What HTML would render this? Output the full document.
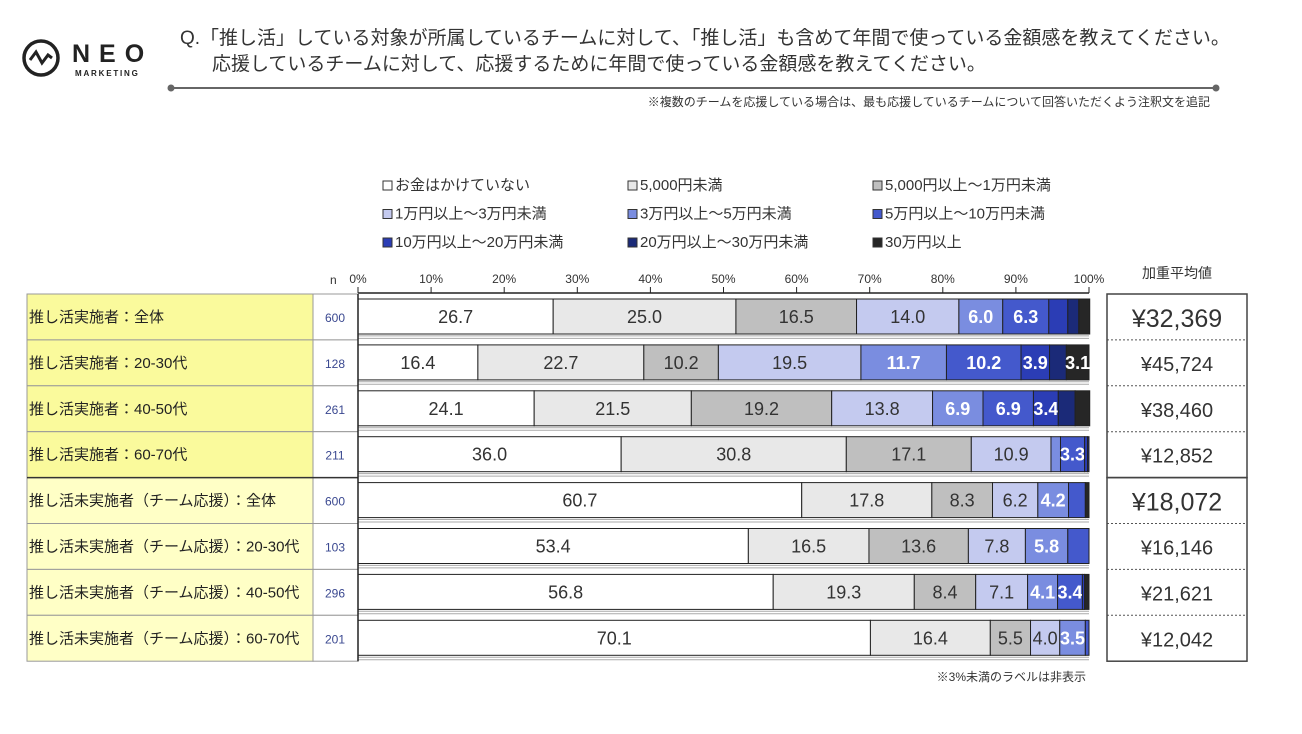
<!DOCTYPE html>
<html><head><meta charset="utf-8"><style>
body{margin:0;background:#fff;width:1302px;height:729px;overflow:hidden;font-family:"Liberation Sans","Noto Sans CJK JP",sans-serif;}
svg text{font-family:"Liberation Sans","Noto Sans CJK JP",sans-serif;}
</style></head><body>
<svg id="chart" width="1302" height="729" xmlns="http://www.w3.org/2000/svg">
<g>
<circle cx="41" cy="58" r="17" fill="none" stroke="#222" stroke-width="3.5"/>
<polyline points="30,60 36,52 42,63 48,55 52,58" fill="none" stroke="#222" stroke-width="3"/>
<text x="72" y="62" font-size="25" font-weight="bold" fill="#222" letter-spacing="9">NEO</text>
<text x="75" y="76" font-size="8" font-weight="bold" fill="#222" letter-spacing="1.8">MARKETING</text>
</g>
<text x="180" y="44" font-size="19" fill="#333">Q.「推し活」している対象が所属しているチームに対して、「推し活」も含めて年間で使っている金額感を教えてください。</text>
<text x="212" y="70" font-size="19" fill="#333">応援しているチームに対して、応援するために年間で使っている金額感を教えてください。</text>
<line x1="171" y1="88" x2="1216" y2="88" stroke="#666" stroke-width="2"/>
<circle cx="171" cy="88" r="3.5" fill="#666"/><circle cx="1216" cy="88" r="3.5" fill="#666"/>
<text x="1210" y="106" font-size="12" fill="#333" text-anchor="end">※複数のチームを応援している場合は、最も応援しているチームについて回答いただくよう注釈文を追記</text>
<g id="legend"></g>
<g id="axis"></g>
<g id="rows"></g>
<text x="1177" y="278" font-size="14" fill="#333" text-anchor="middle">加重平均値</text>
<text x="330" y="284" font-size="12" fill="#333">n</text>
<text x="1086" y="681" font-size="12" fill="#333" text-anchor="end">※3%未満のラベルは非表示</text>
</svg>
<script>
const seriesNames=["お金はかけていない","5,000円未満","5,000円以上～1万円未満","1万円以上～3万円未満","3万円以上～5万円未満","5万円以上～10万円未満","10万円以上～20万円未満","20万円以上～30万円未満","30万円以上"];
const categories=["推し活実施者：全体","推し活実施者：20-30代","推し活実施者：40-50代","推し活実施者：60-70代","推し活未実施者（チーム応援）：全体","推し活未実施者（チーム応援）：20-30代","推し活未実施者（チーム応援）：40-50代","推し活未実施者（チーム応援）：60-70代"];
const nValues=[600,128,261,211,600,103,296,201];
const avgLabels=["¥32,369","¥45,724","¥38,460","¥12,852","¥18,072","¥16,146","¥21,621","¥12,042"];
const s0=[26.7,16.4,24.1,36.0,60.7,53.4,56.8,70.1];
const s1=[25.0,22.7,21.5,30.8,17.8,16.5,19.3,16.4];
const s2=[16.5,10.2,19.2,17.1,8.3,13.6,8.4,5.5];
const s3=[14.0,19.5,13.8,10.9,6.2,7.8,7.1,4.0];
const s4=[6.0,11.7,6.9,1.3,4.2,5.8,4.1,3.5];
const s5=[6.3,10.2,6.9,3.3,2.3,2.9,3.4,0.5];
const s6=[2.6,3.9,3.4,0.4,0.0,0.0,0.3,0.0];
const s7=[1.5,2.3,2.3,0.2,0.0,0.0,0.0,0.0];
const s8=[1.5,3.1,2.0,0.0,0.5,0.0,0.6,0.0];
const series=[s0,s1,s2,s3,s4,s5,s6,s7,s8];
const ticks=[0,10,20,30,40,50,60,70,80,90,100];
const colors=["#ffffff","#e8e8e8","#bfbfbf","#c4caef","#7a8de0","#4459cc","#2b3db5","#1b2a78","#262626"];
const textColors=["#333","#333","#333","#333","#fff","#fff","#fff","#fff","#fff"];
const NS="http://www.w3.org/2000/svg";
const X0=358,X1=1089,rowTop=294,rowH=45.9;
const x=v=>X0+(X1-X0)*v/100;
const yRow=i=>rowTop+i*rowH;
function mk(tag,attrs,parent,txt){const e=document.createElementNS(NS,tag);for(const k in attrs)e.setAttribute(k,attrs[k]);if(txt!==undefined)e.textContent=txt;parent.appendChild(e);return e;}
const lg=document.getElementById('legend');
seriesNames.forEach((nm,i)=>{const c=i%3,r=Math.floor(i/3);const lx=383+c*245,ly=190+r*28.5;
const g=mk('g',{},lg);


mk('rect',{x:lx,y:ly-9,width:9,height:9,fill:colors[i],stroke:'#333','stroke-width':1},g);
mk('text',{x:lx+12,y:ly,'font-size':15,fill:'#333'},g,nm);});
const ax=document.getElementById('axis');
mk('line',{x1:X0,y1:293,x2:X1,y2:293,stroke:'#222','stroke-width':1.5},ax);
ticks.forEach(t=>{mk('line',{x1:x(t),y1:287,x2:x(t),y2:293,stroke:'#222'},ax);
const tl=mk('text',{x:x(t),y:283,'font-size':12,fill:'#333','text-anchor':'middle'},ax,t+'%');

});
const rg=document.getElementById('rows');
categories.forEach((cat,i)=>{const y=yRow(i);
const lab=mk('rect',{x:27,y:y,width:286,height:rowH,fill:i<4?'#fafa9c':'#ffffc6',stroke:'#999','stroke-width':1},rg);


mk('rect',{x:313,y:y,width:45,height:rowH,fill:'#fff',stroke:'#999','stroke-width':1},rg);
mk('text',{x:29,y:y+28,'font-size':15,fill:'#222'},rg,cat);
const nt=mk('text',{x:335,y:y+28,'font-size':12,fill:'#3a4890','text-anchor':'middle'},rg,String(nValues[i]));


mk('line',{x1:X0,y1:y+rowH-4,x2:X1,y2:y+rowH-4,stroke:'#aaa','stroke-width':1},rg);
mk('line',{x1:X0,y1:y+rowH-1.5,x2:X1,y2:y+rowH-1.5,stroke:'#aaa','stroke-width':1},rg);
let acc=0;const by=y+5,bh=35;
series.forEach((s,k)=>{const v=s[i];if(v<=0){return;}
const r=mk('rect',{x:x(acc),y:by,width:x(acc+v)-x(acc),height:bh,fill:colors[k],stroke:'#222','stroke-width':1},rg);


if(v>=3){mk('text',{x:(x(acc)+x(acc+v))/2,y:by+24,'font-size':18,fill:textColors[k],'text-anchor':'middle','font-weight':k>=4?'bold':'normal'},rg,v.toFixed(1));}
acc+=v;});
mk('rect',{x:1107,y:y,width:140,height:rowH,fill:'#fff',stroke:'none'},rg);
const at=mk('text',{x:1177,y:y+(i===0||i===4?33:31),'font-size':(i===0||i===4)?25:20,fill:'#333','text-anchor':'middle'},rg,avgLabels[i]);


if(i%4!==0)mk('line',{x1:1107,y1:y,x2:1247,y2:y,stroke:'#555','stroke-dasharray':'2,2'},rg);
});
mk('rect',{x:1107,y:rowTop,width:140,height:rowH*4,fill:'none',stroke:'#444','stroke-width':1.5},rg);
mk('rect',{x:1107,y:rowTop+rowH*4,width:140,height:rowH*4,fill:'none',stroke:'#444','stroke-width':1.5},rg);
mk('line',{x1:27,y1:rowTop+rowH*4,x2:358,y2:rowTop+rowH*4,stroke:'#333','stroke-width':1.5},rg);
mk('line',{x1:X0,y1:rowTop,x2:X0,y2:rowTop+rowH*8,stroke:'#222','stroke-width':1.5},rg);
</script>
</body></html>
